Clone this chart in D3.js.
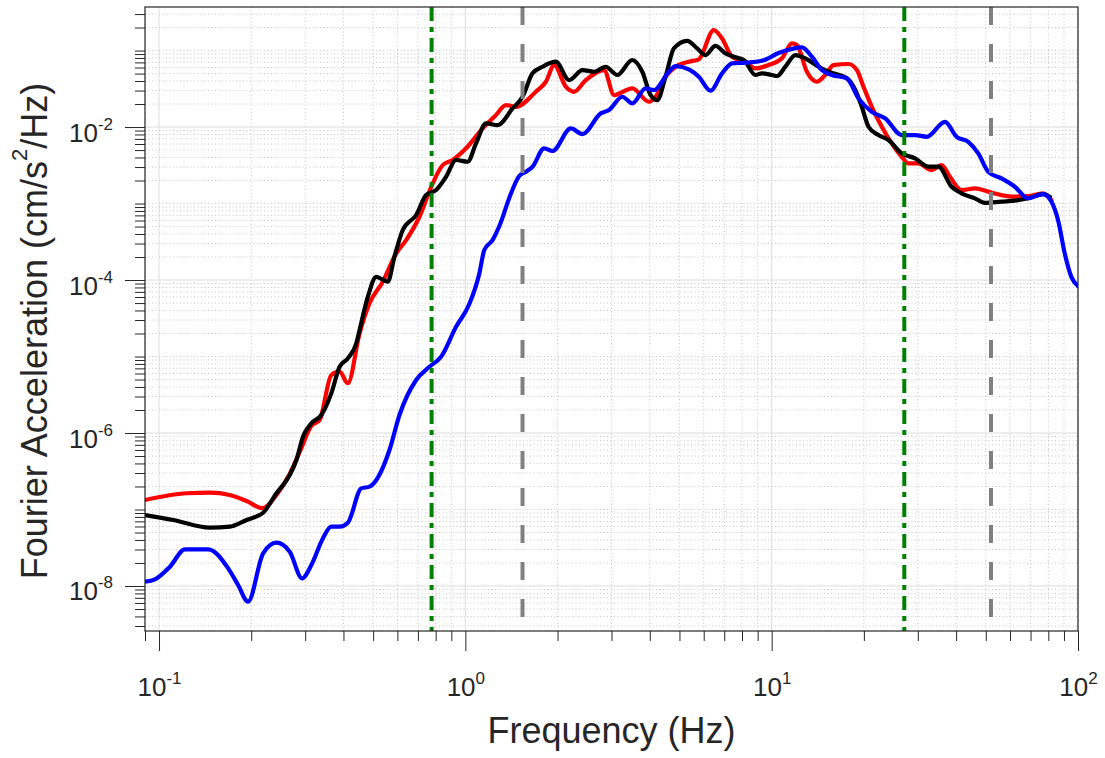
<!doctype html>
<html lang="en">
<head>
<meta charset="utf-8">
<title>Fourier Acceleration</title>
<script src="https://cdn.jsdelivr.net/npm/d3@7"></script>
<style>
  body { margin: 0; background: #fff; }
  svg { display: block; font-family: "Liberation Sans", Arial, Helvetica, sans-serif; }
</style>
</head>
<body>
<script>

// ---- data ----
var freqRed = [0.09, 0.1231, 0.1466, 0.1703, 0.1931, 0.2177, 0.2417, 0.2671, 0.2879, 0.3143,
  0.3345, 0.3651, 0.3886, 0.4135, 0.4516, 0.4867, 0.5378, 0.5946, 0.6409, 0.7083,
  0.7825, 0.8435, 0.9091, 1.0053, 1.139, 1.259, 1.357, 1.463, 1.699, 1.832,
  1.950, 2.128, 2.265, 2.473, 2.837, 3.058, 3.508, 3.975, 4.181, 4.505,
  4.857, 5.366, 5.783, 6.472, 6.888, 7.427, 8.210, 8.852, 9.777, 10.80,
  11.65, 12.09, 13.03, 14.05, 14.96, 15.92, 17.82, 18.97, 19.94, 21.22,
  22.88, 24.65, 26.57, 27.94, 30.12, 33.29, 35.87, 38.19, 41.68, 46.08,
  50.91, 56.27, 62.21, 68.73, 76.91, 81.85];
var accRed = [1.33e-7, 1.63e-7, 1.66e-7, 1.55e-7, 1.29e-7, 1.04e-7, 1.55e-7, 2.91e-7, 5.65e-7, 1.24e-6,
  1.48e-6, 5.73e-6, 6.33e-6, 4.47e-6, 2.01e-5, 4.96e-5, 9.50e-5, 2.23e-4, 3.33e-4, 6.72e-4,
  1.84e-3, 3.18e-3, 3.71e-3, 5.27e-3, 9.62e-3, 1.44e-2, 1.94e-2, 1.84e-2, 2.89e-2, 3.91e-2,
  6.46e-2, 3.37e-2, 2.89e-2, 4.11e-2, 5.56e-2, 2.62e-2, 3.21e-2, 2.14e-2, 2.49e-2, 4.55e-2,
  6.14e-2, 7.15e-2, 7.67e-2, 0.185, 0.144, 8.30e-2, 7.15e-2, 5.85e-2, 6.46e-2, 7.91e-2,
  0.124, 0.118, 5.28e-2, 3.91e-2, 4.79e-2, 6.46e-2, 6.67e-2, 5.56e-2, 3.37e-2, 1.84e-2,
  1.01e-2, 6.12e-3, 4.09e-3, 3.35e-3, 3.35e-3, 2.74e-3, 3.18e-3, 2.24e-3, 1.50e-3, 1.58e-3,
  1.43e-3, 1.29e-3, 1.23e-3, 1.25e-3, 1.36e-3, 1.11e-3];

var freqBlack = [0.09, 0.1113, 0.1466, 0.1703, 0.1931, 0.2187, 0.2417, 0.2671, 0.2809, 0.2951,
  0.3143, 0.3388, 0.3651, 0.3886, 0.4135, 0.4406, 0.4516, 0.4806, 0.5118, 0.5582,
  0.5869, 0.6248, 0.6909, 0.7447, 0.8027, 0.8653, 0.9326, 1.0174, 1.0837, 1.168,
  1.274, 1.426, 1.537, 1.657, 1.786, 1.974, 2.182, 2.411, 2.632, 2.872,
  3.134, 3.508, 3.781, 4.027, 4.23, 4.505, 4.796, 5.30, 5.711, 6.081,
  6.555, 7.068, 7.616, 8.106, 8.852, 9.298, 10.02, 10.41, 11.08, 11.95,
  12.88, 14.23, 15.34, 17.59, 18.74, 19.69, 20.7, 22.31, 24.05, 26.57,
  29.38, 32.47, 34.99, 38.67, 41.68, 46.08, 49.67, 56.27, 62.21, 68.73,
  76.91, 81.05];
var accBlack = [8.47e-8, 7.29e-8, 5.78e-8, 5.96e-8, 7.29e-8, 9.08e-8, 1.63e-7, 2.82e-7, 4.44e-7, 8.95e-7,
  1.34e-6, 1.72e-6, 3.30e-6, 7.36e-6, 9.46e-6, 1.49e-5, 2.22e-5, 6.05e-5, 1.10e-4, 9.50e-5,
  2.02e-4, 4.51e-4, 7.08e-4, 1.29e-3, 1.50e-3, 2.24e-3, 3.71e-3, 3.52e-3, 6.12e-3, 1.12e-2,
  1.06e-2, 1.75e-2, 2.49e-2, 5.04e-2, 6.14e-2, 7.15e-2, 4.11e-2, 5.56e-2, 5.28e-2, 6.14e-2,
  4.79e-2, 7.52e-2, 5.28e-2, 2.62e-2, 2.25e-2, 4.55e-2, 0.107, 0.134, 0.107, 8.73e-2,
  0.115, 9.18e-2, 8.15e-2, 7.52e-2, 4.79e-2, 5.04e-2, 4.79e-2, 4.65e-2, 6.14e-2, 8.73e-2,
  7.91e-2, 6.14e-2, 5.28e-2, 4.34e-2, 3.05e-2, 1.84e-2, 1.01e-2, 7.86e-3, 6.76e-3, 4.53e-3,
  3.90e-3, 3.03e-3, 3.03e-3, 1.66e-3, 1.36e-3, 1.17e-3, 1.02e-3, 1.06e-3, 1.09e-3, 1.17e-3,
  1.33e-3, 1.22e-3];

var freqBlue = [0.09, 0.0970, 0.1086, 0.1215, 0.1447, 0.1682, 0.1812, 0.1953, 0.2187, 0.2417,
  0.2671, 0.2930, 0.3143, 0.3429, 0.3651, 0.3886, 0.4135, 0.4574, 0.4867, 0.5169,
  0.5654, 0.6095, 0.6909, 0.7635, 0.8333, 0.9326, 1.0304, 1.111, 1.153, 1.227,
  1.307, 1.391, 1.499, 1.577, 1.657, 1.808, 1.924, 2.210, 2.411, 2.767,
  2.944, 3.253, 3.508, 3.878, 4.127, 4.618, 4.857, 5.366, 5.783, 6.313,
  6.888, 7.427, 8.210, 9.298, 10.54, 12.56, 13.53, 14.58, 15.72, 17.59,
  19.21, 21.22, 23.46, 26.57, 29.38, 32.06, 36.80, 40.15, 43.84, 47.25,
  50.91, 56.27, 62.21, 68.73, 76.91, 81.85, 86.06, 90.51, 95.11, 100];
var accBlue = [1.14e-8, 1.22e-8, 1.79e-8, 3.02e-8, 3.02e-8, 1.70e-8, 1.03e-8, 6.24e-9, 2.67e-8, 3.68e-8,
  2.81e-8, 1.26e-8, 1.88e-8, 4.21e-8, 5.96e-8, 5.96e-8, 6.71e-8, 1.89e-7, 1.99e-7, 2.58e-7,
  6.00e-7, 1.72e-6, 4.93e-6, 7.36e-6, 9.93e-6, 2.45e-5, 4.85e-5, 1.22e-4, 2.47e-4, 3.33e-4,
  5.73e-4, 1.18e-3, 2.29e-3, 2.61e-3, 3.03e-3, 5.27e-3, 4.86e-3, 9.62e-3, 8.10e-3, 1.51e-2,
  1.67e-2, 2.49e-2, 2.04e-2, 3.21e-2, 3.05e-2, 5.28e-2, 6.26e-2, 5.67e-2, 4.55e-2, 2.99e-2,
  5.04e-2, 6.81e-2, 6.94e-2, 7.36e-2, 9.27e-2, 0.110, 8.30e-2, 5.56e-2, 4.79e-2, 4.34e-2,
  2.37e-2, 1.58e-2, 1.30e-2, 7.86e-3, 7.86e-3, 7.46e-3, 1.17e-2, 7.46e-3, 6.42e-3, 4.53e-3,
  2.61e-3, 2.13e-3, 1.66e-3, 1.17e-3, 1.33e-3, 1.06e-3, 6.08e-4, 2.23e-4, 1.10e-4, 8.35e-5];

// vertical marker lines (Hz)
var greenFreqs = [0.776, 27.1];
var grayFreqs = [1.537, 52.0];

var xMajorTicks = [0.1, 1, 10, 100];
var yMajorTicks = [1e-8, 1e-6, 1e-4, 1e-2];

// ---- layout ----
var svgW = 1105, svgH = 758;
var margin = {top: 7, right: 27, bottom: 127, left: 145};
var w = svgW - margin.left - margin.right;
var h = svgH - margin.top - margin.bottom;
var axisColor = "#262626";

var x = d3.scaleLog().domain([0.09, 100]).range([0, w]);
var y = d3.scaleLog().domain([2.58e-9, 0.371]).range([h, 0]);

// minor ticks: every m*10^e inside the domain that is not a major tick
function minorTicks(scale, eFrom, eTo, majors) {
  var out = [];
  var dom = scale.domain();
  for (var e = eFrom; e <= eTo; e++) {
    for (var m = 1; m <= 9; m++) {
      var v = +(m + "e" + e);
      if (v >= dom[0] * 0.999 && v <= dom[1] * 1.001 && majors.indexOf(v) < 0) out.push(v);
    }
  }
  return out;
}
var xMinorTicks = minorTicks(x, -2, 1, xMajorTicks);
var yMinorTicks = minorTicks(y, -9, -1, yMajorTicks);

var svg = d3.select("body").append("svg")
  .attr("width", svgW)
  .attr("height", svgH);

var g = svg.append("g")
  .attr("transform", "translate(" + margin.left + "," + margin.top + ")");

g.append("clipPath").attr("id", "plotclip")
  .append("rect").attr("width", w).attr("height", h);

// ---- grid ----
var grid = g.append("g");
grid.selectAll(".xminor").data(xMinorTicks).enter().append("line")
  .attr("x1", d => x(d)).attr("x2", d => x(d)).attr("y1", 0).attr("y2", h)
  .attr("stroke", "#c4c4c4").attr("stroke-width", 1).attr("stroke-dasharray", "1,2.5");
grid.selectAll(".yminor").data(yMinorTicks).enter().append("line")
  .attr("y1", d => y(d)).attr("y2", d => y(d)).attr("x1", 0).attr("x2", w)
  .attr("stroke", "#c4c4c4").attr("stroke-width", 1).attr("stroke-dasharray", "1,2.5");
grid.selectAll(".xmajor").data(xMajorTicks).enter().append("line")
  .attr("x1", d => x(d)).attr("x2", d => x(d)).attr("y1", 0).attr("y2", h)
  .attr("stroke", "#dcdcdc").attr("stroke-width", 1);
grid.selectAll(".ymajor").data(yMajorTicks).enter().append("line")
  .attr("y1", d => y(d)).attr("y2", d => y(d)).attr("x1", 0).attr("x2", w)
  .attr("stroke", "#dcdcdc").attr("stroke-width", 1);

// ---- curves ----
var line = d3.line()
  .x(d => x(d[0]))
  .y(d => y(d[1]))
  .curve(d3.curveMonotoneX);

var series = [
  {f: freqRed, a: accRed, color: "#ff0000"},
  {f: freqBlack, a: accBlack, color: "#000000"},
  {f: freqBlue, a: accBlue, color: "#0000ff"}
];

var curves = g.append("g").attr("clip-path", "url(#plotclip)");
curves.selectAll("path")
  .data(series)
  .enter()
  .append("path")
  .attr("d", s => line(s.f.map((f, i) => [f, s.a[i]])))
  .attr("fill", "none")
  .attr("stroke", s => s.color)
  .attr("stroke-width", 4.2)
  .attr("stroke-linejoin", "round")
  .attr("stroke-linecap", "round");

// ---- vertical marker lines ----
curves.selectAll(".green").data(greenFreqs).enter().append("line")
  .attr("x1", d => x(d)).attr("x2", d => x(d)).attr("y1", 0).attr("y2", h)
  .attr("stroke", "#008000").attr("stroke-width", 4)
  .attr("stroke-dasharray", "14,6,5,6");
curves.selectAll(".gray").data(grayFreqs).enter().append("line")
  .attr("x1", d => x(d)).attr("x2", d => x(d)).attr("y1", 0).attr("y2", h)
  .attr("stroke", "#808080").attr("stroke-width", 4)
  .attr("stroke-dasharray", "18,19");

// ---- axes ----
function tenPower(sel, d) {
  sel.text(null);
  sel.append("tspan").text("10");
  sel.append("tspan").attr("font-size", 17).attr("dy", -12)
    .text(String(Math.round(Math.log10(d))));
}

var gxMinor = g.append("g").attr("transform", "translate(0," + h + ")")
  .call(d3.axisBottom(x).tickValues(xMinorTicks).tickSizeInner(10).tickSizeOuter(0));
gxMinor.selectAll("text").remove();
var gxMajor = g.append("g").attr("transform", "translate(0," + h + ")")
  .call(d3.axisBottom(x).tickValues(xMajorTicks).tickSizeInner(20).tickSizeOuter(0));
gxMajor.selectAll(".tick text")
  .attr("y", 65).attr("dy", null)
  .attr("fill", axisColor)
  .attr("font-size", 26)
  .attr("font-family", "Liberation Sans, Arial, sans-serif")
  .each(function(d) { tenPower(d3.select(this), d); });

var gyMinor = g.append("g")
  .call(d3.axisLeft(y).tickValues(yMinorTicks).tickSizeInner(10).tickSizeOuter(0));
gyMinor.selectAll("text").remove();
var gyMajor = g.append("g")
  .call(d3.axisLeft(y).tickValues(yMajorTicks).tickSizeInner(20).tickSizeOuter(0));
gyMajor.selectAll(".tick text")
  .attr("x", -32).attr("dy", null).attr("y", 14)
  .attr("fill", axisColor)
  .attr("font-size", 26)
  .attr("font-family", "Liberation Sans, Arial, sans-serif")
  .each(function(d) { tenPower(d3.select(this), d); });

g.selectAll(".domain").remove();
g.selectAll(".tick line").attr("stroke", axisColor);

// box
g.append("rect")
  .attr("width", w).attr("height", h)
  .attr("fill", "none")
  .attr("stroke", axisColor)
  .attr("stroke-width", 1.2);

// ---- axis titles ----
g.append("text")
  .attr("x", w / 2)
  .attr("y", h + 112)
  .attr("text-anchor", "middle")
  .attr("font-size", 36)
  .attr("fill", axisColor)
  .text("Frequency (Hz)");

var yTitle = svg.append("text")
  .attr("transform", "translate(47," + (margin.top + h / 2 + 12) + ") rotate(-90)")
  .attr("text-anchor", "middle")
  .attr("font-size", 36)
  .attr("fill", axisColor);
yTitle.append("tspan").text("Fourier Acceleration (cm/s");
yTitle.append("tspan").attr("font-size", 22).attr("dy", -20).text("2");
yTitle.append("tspan").attr("dy", 20).text("/Hz)");

</script>
</body>
</html>
